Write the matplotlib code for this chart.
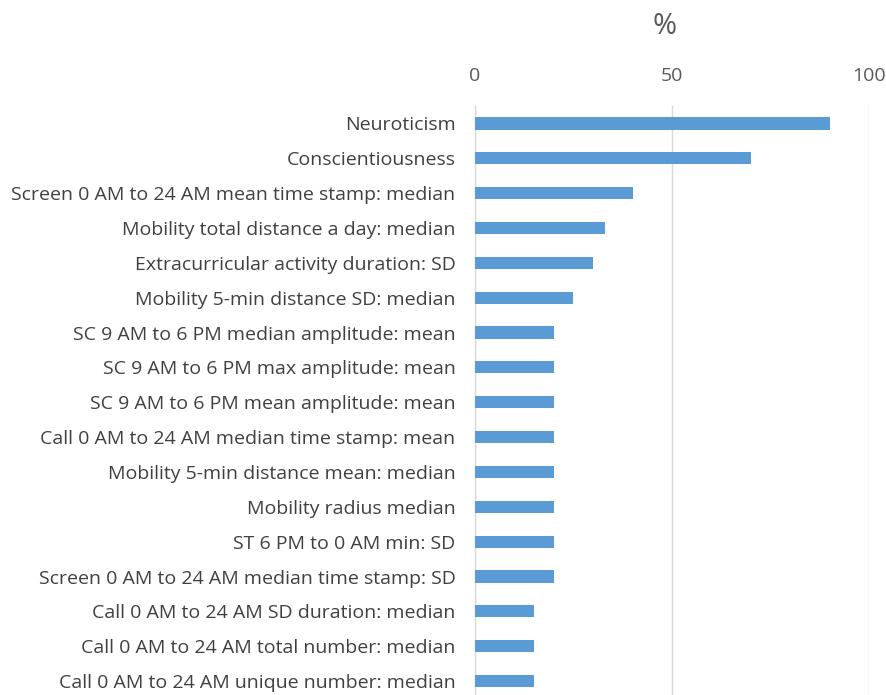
import matplotlib
matplotlib.use("Agg")
import matplotlib.pyplot as plt

categories = [
    "Neuroticism",
    "Conscientiousness",
    "Screen 0 AM to 24 AM mean time stamp: median",
    "Mobility total distance a day: median",
    "Extracurricular activity duration: SD",
    "Mobility 5-min distance SD: median",
    "SC 9 AM to 6 PM median amplitude: mean",
    "SC 9 AM to 6 PM max amplitude: mean",
    "SC 9 AM to 6 PM mean amplitude: mean",
    "Call 0 AM to 24 AM median time stamp: mean",
    "Mobility 5-min distance mean: median",
    "Mobility radius median",
    "ST 6 PM to 0 AM min: SD",
    "Screen 0 AM to 24 AM median time stamp: SD",
    "Call 0 AM to 24 AM SD duration: median",
    "Call 0 AM to 24 AM total number: median",
    "Call 0 AM to 24 AM unique number: median",
]
values = [90, 70, 40, 33, 30, 25, 20, 20, 20, 20, 20, 20, 20, 20, 15, 15, 15]
xticks = [0, 50, 100]

plt.rcParams['font.family'] = ['Open Sans', 'DejaVu Sans']

W, H = 887, 695
fig = plt.figure(figsize=(W / 100, H / 100), dpi=100)
left, right, top, bottom = 475, 869, 106, 695
ax = fig.add_axes([left / W, 1 - bottom / H, (right - left) / W, (bottom - top) / H])

ypos = list(range(len(categories)))
ax.barh(ypos, values, height=0.35, color="#5B9BD5", zorder=3)
ax.set_xlim(0, 100)
ax.set_ylim(16.4, -0.5)
ax.set_yticks(ypos)
ax.set_yticklabels(categories, fontsize=14, color="#404040")
ax.set_xticks(xticks)
ax.set_xticklabels([str(t) for t in xticks], fontsize=14, color="#595959")
ax.xaxis.tick_top()
ax.tick_params(axis="x", length=0, pad=15)
ax.tick_params(axis="y", length=0, pad=14)
for s in ["top", "right", "bottom"]:
    ax.spines[s].set_visible(False)
ax.spines["left"].set_color("#D9D9D9")
ax.spines["left"].set_linewidth(1.0)
ax.grid(axis="x", color="#D9D9D9", linewidth=1.0, zorder=0)
ax.set_axisbelow(True)

fig.text(665 / W, 1 - 27 / H, "%", ha="center", va="center", fontsize=21, color="#595959")

fig.savefig("out.png", dpi=100)
